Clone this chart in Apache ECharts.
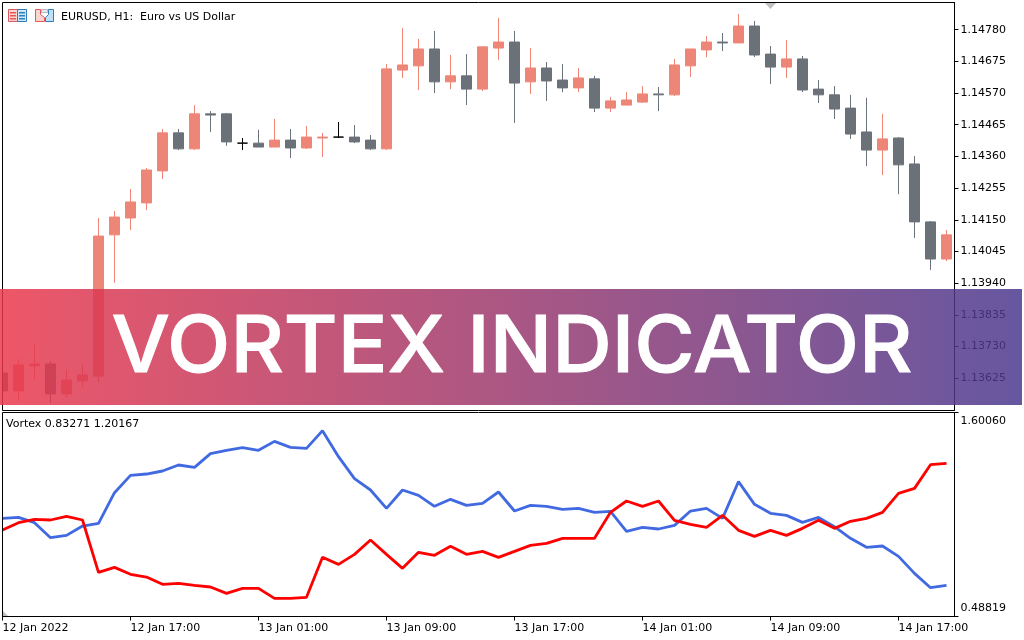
<!DOCTYPE html>
<html>
<head>
<meta charset="utf-8">
<style>html,body{margin:0;padding:0;background:#fff}#c{width:1024px;height:640px}</style>
<script src="https://cdn.jsdelivr.net/npm/echarts@6/dist/echarts.min.js"></script>
</head>
<body>
<div id="c"></div>
<script>
var opens=[113642,113583,113666,113672,113573,113616,113632,114100,114156,114206,114312,114438,114385,114501,114501,114404,114404,114391,114414,114388,114421,114424,114424,114414,114385,114646,114660,114716,114607,114627,114583,114719,114739,114607,114653,114613,114587,114617,114520,114530,114540,114567,114564,114660,114713,114739,114736,114792,114699,114656,114683,114583,114564,114520,114441,114381,114421,114335,114143,114020];
var closes=[113583,113669,113672,113573,113619,113636,114096,114159,114209,114315,114438,114385,114501,114497,114408,114404,114391,114414,114388,114424,114424,114424,114408,114385,114650,114663,114716,114607,114627,114583,114723,114739,114603,114653,114610,114587,114620,114520,114544,114547,114567,114564,114663,114716,114739,114736,114792,114696,114656,114683,114580,114564,114517,114434,114381,114418,114332,114143,114020,114100];
var lows=[113570,113550,113619,113543,113563,113596,113613,113941,114116,114182,114285,114381,114381,114441,114395,114381,114391,114391,114355,114385,114358,114421,114404,114381,114381,114620,114580,114570,114583,114530,114577,114680,114471,114567,114544,114573,114573,114507,114507,114530,114537,114510,114560,114623,114689,114709,114736,114689,114600,114620,114573,114537,114484,114418,114328,114298,114235,114090,113984,114013];
var highs=[113652,113689,113738,113682,113652,113669,114156,114179,114252,114322,114451,114451,114530,114510,114504,114421,114448,114484,114451,114461,114438,114474,114464,114431,114666,114786,114749,114776,114696,114699,114723,114819,114776,114719,114673,114666,114653,114627,114557,114573,114593,114590,114683,114716,114759,114769,114832,114809,114726,114746,114693,114613,114593,114564,114554,114501,114424,114361,114146,114116];
var viPlus=[1.0234,1.0289,0.9998,0.9180,0.9307,0.9816,0.9962,1.1634,1.2579,1.2652,1.2816,1.3143,1.3016,1.3761,1.3943,1.4088,1.3943,1.4433,1.4106,1.4052,1.5015,1.3597,1.2398,1.1780,1.0780,1.1780,1.1489,1.0889,1.1271,1.0943,1.1052,1.1670,1.0634,1.0943,1.0889,1.0725,1.0780,1.0562,1.0616,0.9526,0.9744,0.9653,0.9853,1.0634,1.0780,1.0234,1.2234,1.0998,1.0507,1.0398,1.0016,1.0289,0.9780,0.9144,0.8653,0.8726,0.8162,0.7235,0.6454,0.6581];
var viMinus=[0.9598,0.9998,1.0180,1.0144,1.0344,1.0144,0.7290,0.7562,0.7181,0.7035,0.6635,0.6690,0.6581,0.6490,0.6145,0.6417,0.6417,0.5872,0.5872,0.5926,0.8108,0.7726,0.8271,0.9053,0.8271,0.7508,0.8380,0.8217,0.8708,0.8271,0.8435,0.8108,0.8435,0.8762,0.8871,0.9144,0.9144,0.9144,1.0562,1.1180,1.0889,1.1180,1.0125,0.9907,0.9744,1.0398,0.9580,0.9253,0.9580,0.9307,0.9689,1.0125,0.9689,1.0071,1.0234,1.0562,1.1598,1.1870,1.3161,1.3234];
var timeLabels=['12 Jan 2022','12 Jan 17:00','13 Jan 01:00','13 Jan 09:00','13 Jan 17:00','14 Jan 01:00','14 Jan 09:00','14 Jan 17:00'];
var priceTicks=[1.13625,1.13730,1.13835,1.13940,1.14045,1.14150,1.14255,1.14360,1.14465,1.14570,1.14675,1.14780];
var vortexTicks=[0.48819,1.60060];
var titleText='EURUSD, H1:  Euro vs US Dollar';
var legendText='Vortex 0.83271 1.20167';
var bannerText='VORTEX INDICATOR';

var FONT='"DejaVu Sans"';
var UP='#EE8677',DOWN='#6B7178';
var categories=opens.map(function(_,i){return i%8===0?timeLabels[i/8]:String(i);});
var candles=opens.map(function(o,i){
  var item={value:[o/1e5,closes[i]/1e5,lows[i]/1e5,highs[i]/1e5]};
  if(o===closes[i]) item.itemStyle={color:'#000',color0:'#000',borderColor:'#000',borderColor0:'#000'};
  return item;
});
var chart=echarts.init(document.getElementById('c'),null,{renderer:'canvas'});
function t(text,x,y,extra){return Object.assign({type:'text',x:x,y:y,z:20,silent:true,style:{text:text,font:'11px '+FONT,fill:'#000',textVerticalAlign:'middle'}},extra||{});}
function box(x,y,w,h,fill,stroke){return {type:'rect',z:20,silent:true,shape:{x:x,y:y,width:w,height:h},style:{fill:fill||'none',stroke:stroke||null,lineWidth:1}};}
var graphics=[
  {type:'rect',z:10,silent:true,shape:{x:0,y:0,width:2,height:640},style:{fill:'#fff'}},
  box(2.5,2.5,952,408,'none','#000'),
  box(2.5,412.5,952,204,'none','#000'),
  {type:'polygon',z:20,silent:true,shape:{points:[[765,3],[776,3],[770.5,9]]},style:{fill:'#C0C0C0'}},
  {type:'polygon',z:20,silent:true,shape:{points:[[3,611],[3,616],[8,616]]},style:{fill:'#C0C0C0'}},
  box(8.5,9.5,9,12,'#FBD5CF','#E2575A'),
  box(17.5,9.5,9,12,'#CFE6F7','#2F7FBF'),
  box(10,12,6,1.5,'#E2575A'),box(10,15,6,1.5,'#E2575A'),box(10,18,6,1.5,'#E2575A'),
  box(19,12,6,1.5,'#2F7FBF'),box(19,15,6,1.5,'#2F7FBF'),box(19,18,6,1.5,'#2F7FBF'),
  {type:'polygon',z:20,silent:true,shape:{points:[[35.5,9.5],[40.5,9.5],[40.5,14.5],[44.5,17.5],[44.5,21.5],[35.5,21.5]]},style:{fill:'#FBD5CF',stroke:'#E2575A',lineWidth:1}},
  {type:'polygon',z:20,silent:true,shape:{points:[[53.5,9.5],[48.5,9.5],[48.5,14.5],[45.5,17.5],[45.5,21.5],[53.5,21.5]]},style:{fill:'#BFE0F7',stroke:'#2F7FBF',lineWidth:1}},
  box(41.5,9.5,6,3,'#E8E8EE','#B8B8C4'),
  t(titleText,61,17.5),
  t(legendText,6,424),
  {type:'rect',z:100,silent:true,shape:{x:0,y:289,width:1022,height:116},style:{opacity:0.84,fill:new echarts.graphic.LinearGradient(0,0,1,0,[{offset:0,color:'#EA374B'},{offset:1,color:'#49378E'}])}},
  {type:'text',z:101,silent:true,x:512,y:349,scaleX:1.058,originX:0,style:{text:bannerText,font:'500 78px Inter',fill:'#fff',stroke:'#fff',lineWidth:1,textAlign:'center',textVerticalAlign:'middle'}}
];
chart.setOption({
  animation:false,
  backgroundColor:'#fff',
  grid:[
    {left:-5.5,top:2.5,width:960,height:408,outerBoundsMode:'none',containLabel:false},
    {left:-5.5,top:412.5,width:960,height:204,outerBoundsMode:'none',containLabel:false}
  ],
  xAxis:[
    {type:'category',gridIndex:0,data:categories,axisLine:{show:false},axisTick:{show:false},axisLabel:{show:false},splitLine:{show:false}},
    {type:'category',gridIndex:1,data:categories,boundaryGap:true,
     axisLine:{show:true,lineStyle:{color:'#000'}},
     axisTick:{show:true,alignWithLabel:true,length:4,lineStyle:{color:'#000'},interval:function(i){return i%8===0;}},
     axisLabel:{show:true,align:'left',margin:6,color:'#000',fontFamily:FONT,fontSize:11,hideOverlap:false,interval:function(i){return i%8===0;}},
     splitLine:{show:false}}
  ],
  yAxis:[
    {type:'value',gridIndex:0,position:'right',min:1.13518,max:1.14870,scale:true,
     axisLine:{show:true,lineStyle:{color:'#000'}},
     axisTick:{show:true,length:4,lineStyle:{color:'#000'},customValues:priceTicks},
     axisLabel:{show:true,margin:6,color:'#000',fontFamily:FONT,fontSize:11,customValues:priceTicks,formatter:function(v){return v.toFixed(5);}},
     splitLine:{show:false}},
    {type:'value',gridIndex:1,position:'right',min:vortexTicks[0],max:vortexTicks[1],scale:true,
     axisLine:{show:true,lineStyle:{color:'#000'}},
     axisTick:{show:true,length:4,lineStyle:{color:'#000'},customValues:vortexTicks},
     axisLabel:{show:true,margin:6,color:'#000',fontFamily:FONT,fontSize:11,lineHeight:17,customValues:vortexTicks,verticalAlignMinLabel:'bottom',verticalAlignMaxLabel:'top',formatter:function(v){return v.toFixed(5);}},
     splitLine:{show:false}}
  ],
  series:[
    {type:'candlestick',name:'EURUSD',xAxisIndex:0,yAxisIndex:0,data:candles,barWidth:11,
     itemStyle:{color:UP,color0:DOWN,borderColor:UP,borderColor0:DOWN,borderWidth:1}},
    {type:'line',name:'VI+',xAxisIndex:1,yAxisIndex:1,data:viPlus,showSymbol:false,symbol:'none',lineStyle:{color:'#4169E1',width:2.8}},
    {type:'line',name:'VI-',xAxisIndex:1,yAxisIndex:1,data:viMinus,showSymbol:false,symbol:'none',lineStyle:{color:'#FF0000',width:2.8}}
  ],
  graphic:{elements:graphics}
});
</script>
</body>
</html>
